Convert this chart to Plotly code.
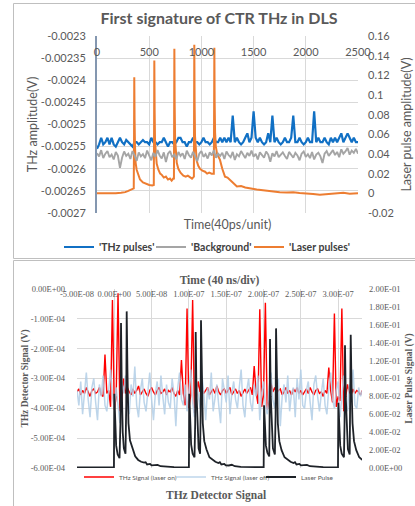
import plotly.graph_objects as go

W, H = 415, 506
SANS = "Lato"
SERIF = "Liberation Serif"
GRAY = "#595959"
GRID = "#d9d9d9"

# ---------------- top chart data ----------------
top_time_units = list(range(0, 2501, 20))

thz_pulses = [
    -0.002555, -0.002545, -0.00253, -0.002545, -0.00254, -0.00253, -0.002545, -0.00253, -0.002545, -0.00255,
    -0.00254, -0.00253, -0.00254, -0.002545, -0.002535, -0.00254, -0.002545, -0.00255, -0.00254, -0.00254,
    -0.002545, -0.00254, -0.002535, -0.00254, -0.00254, -0.002545, -0.00253, -0.00254, -0.00254, -0.002545,
    -0.00254, -0.00254, -0.00253, -0.00254, -0.00255, -0.00254, -0.00254, -0.002545, -0.00254, -0.00253,
    -0.00253, -0.00254, -0.00254, -0.00255, -0.00254, -0.00254, -0.00253, -0.00254, -0.00254, -0.002545,
    -0.00254, -0.00253, -0.00254, -0.00254, -0.002545, -0.00254, -0.00253, -0.00254, -0.00254, -0.00253,
    -0.00254, -0.00253, -0.00254, -0.00253, -0.00254, -0.00248, -0.00254, -0.00253, -0.00254, -0.002545,
    -0.00254, -0.00253, -0.00252, -0.00254, -0.00253, -0.00247, -0.00253, -0.00254, -0.00253, -0.00254,
    -0.002545, -0.00254, -0.00252, -0.00254, -0.00248, -0.00254, -0.00253, -0.00254, -0.002545, -0.00254,
    -0.00253, -0.00254, -0.00254, -0.00253, -0.00248, -0.00254, -0.00254, -0.00253, -0.00254, -0.002545,
    -0.00254, -0.00253, -0.00254, -0.00254, -0.00247, -0.00254, -0.00253, -0.00254, -0.00254, -0.00253,
    -0.00254, -0.002545, -0.00253, -0.00254, -0.00253, -0.00254, -0.00253, -0.00252, -0.00254, -0.00253,
    -0.00252, -0.00253, -0.00254, -0.00253, -0.00254, -0.00254,
]

background = [
    -0.002565, -0.002572, -0.002558, -0.002576, -0.002566, -0.00256, -0.002574, -0.002568, -0.002579, -0.002562,
    -0.00257, -0.002598, -0.002575, -0.002561, -0.002571, -0.002566, -0.002578, -0.00256, -0.00257, -0.002582,
    -0.002563, -0.002572, -0.002567, -0.002576, -0.002559, -0.002569, -0.002581, -0.002564, -0.002573, -0.002558,
    -0.00257, -0.002577, -0.002563, -0.002585, -0.002566, -0.00256, -0.002574, -0.002568, -0.002579, -0.002562,
    -0.002571, -0.002565, -0.002578, -0.002559, -0.002569, -0.002575, -0.002562, -0.002572, -0.002583, -0.002566,
    -0.00256, -0.002573, -0.002567, -0.002577, -0.002563, -0.00257, -0.002558, -0.002575, -0.002566, -0.002571,
    -0.002564, -0.002578, -0.002561, -0.002569, -0.002574, -0.002562, -0.00258, -0.002567, -0.002572, -0.00256,
    -0.002569, -0.002576, -0.002564, -0.002571, -0.002559, -0.002573, -0.002566, -0.002579, -0.002563, -0.00257,
    -0.002575, -0.002561, -0.002568, -0.002584, -0.002565, -0.002572, -0.00256, -0.002574, -0.002567, -0.002563,
    -0.002571, -0.002578, -0.002562, -0.002569, -0.002575, -0.002564, -0.00257, -0.002581, -0.002566, -0.002561,
    -0.002573, -0.002567, -0.002576, -0.002562, -0.002579, -0.002568, -0.002564, -0.002572, -0.002587, -0.002566,
    -0.00256, -0.002571, -0.002565, -0.002558, -0.002569, -0.002562, -0.002574, -0.002556, -0.002566, -0.002561,
    -0.002553, -0.002568, -0.002559, -0.002564, -0.002555, -0.002566,
]

laser_units = [
    0, 60, 120, 180, 230, 270, 300, 330, 352, 355, 357, 360, 364, 370, 380, 395, 412, 440, 470, 500, 530, 544,
    547, 549, 552, 556, 562, 572, 588, 605, 619, 640, 660, 680, 699, 715, 730, 737,
    739, 741, 744, 748, 754, 764, 779, 800, 827, 850, 870, 891, 910, 928,
    930, 932, 935, 939, 945, 955, 970, 987, 1010, 1035, 1055, 1075, 1098, 1119,
    1122, 1124, 1127, 1131, 1138, 1150, 1178, 1200, 1226, 1250, 1274, 1300, 1340, 1380, 1420, 1460, 1497,
    1530, 1570, 1610, 1657, 1700, 1750, 1817, 1880, 1940, 2000, 2070, 2135, 2200, 2260, 2300, 2360, 2420, 2490, 2500,
]
laser_pulses = [
    0.0, 0.0, -0.0003, 0.0, 0.0006, 0.0012, 0.0025, 0.004, 0.005, 0.06, 0.118, 0.075, 0.048, 0.031, 0.024, 0.018, 0.014, 0.011, 0.0095, 0.0085, 0.008, 0.0085,
    0.07, 0.135, 0.085, 0.052, 0.038, 0.03, 0.024, 0.02, 0.019, 0.016, 0.017, 0.014, 0.015, 0.013, 0.015, 0.015,
    0.08, 0.147, 0.09, 0.056, 0.04, 0.031, 0.025, 0.021, 0.018, 0.017, 0.018, 0.016, 0.015, 0.017,
    0.09, 0.151, 0.092, 0.058, 0.042, 0.033, 0.028, 0.025, 0.023, 0.022, 0.02, 0.021, 0.02, 0.02,
    0.09, 0.148, 0.092, 0.062, 0.048, 0.04, 0.034, 0.025, 0.017, 0.016, 0.014, 0.011, 0.007, 0.0075, 0.006, 0.005, 0.0045,
    0.004, 0.0035, 0.003, 0.0018, 0.002, 0.0012, 0.0008, 0.001, 0.0003, 0.0, -0.0007, -0.0015, -0.001, -0.0008, 0.0, 0.0005, -0.0003, 0.0, 0.0,
]

top_x_ticks = [0, 500, 1000, 1500, 2000, 2500]
top_x_ticktext = ["0", "500", "1000", "1500", "2000", "2500"]
top_left_ticks = [-0.0023, -0.00235, -0.0024, -0.00245, -0.0025, -0.00255, -0.0026, -0.00265, -0.0027]
top_left_ticktext = ["-0.0023", "-0.00235", "-0.0024", "-0.00245", "-0.0025",
                     "-0.00255", "-0.0026", "-0.00265", "-0.0027"]
top_right_ticks = [-0.02, 0.0, 0.02, 0.04, 0.06, 0.08, 0.1, 0.12, 0.14, 0.16]
top_right_ticktext = ["-0.02", "0", "0.02", "0.04", "0.06", "0.08", "0.1", "0.12", "0.14", "0.16"]

# ---------------- bottom chart data ----------------
thz_time_ns = [-50 + 2.5 * i for i in range(154)]

thz_laser_on = [
    -3.45e-4, -3.35e-4, -3.55e-4, -3.40e-4, -3.50e-4, -3.30e-4, -3.45e-4, -3.60e-4, -3.40e-4, -3.35e-4,
    -3.50e-4, -3.45e-4, -3.30e-4, -3.55e-4, -3.60e-4, -2.20e-4, -3.50e-4, -3.40e-4, -3.95e-4, -0.37e-4,
    -4.05e-4, -3.60e-4, -0.14e-4, -4.10e-4, -3.70e-4, -3.00e-4, -3.50e-4, -3.30e-4, -3.45e-4, -3.55e-4,
    -3.35e-4, -3.50e-4, -3.40e-4, -3.25e-4, -3.55e-4, -3.45e-4, -3.35e-4, -3.50e-4, -3.60e-4, -3.40e-4,
    -3.30e-4, -3.45e-4, -3.55e-4, -3.40e-4, -3.30e-4, -3.50e-4, -3.45e-4, -3.35e-4, -3.55e-4, -3.40e-4,
    -3.45e-4, -3.30e-4, -3.50e-4, -3.60e-4, -3.40e-4, -3.55e-4, -2.38e-4, -3.50e-4, -3.90e-4, -0.65e-4,
    -4.00e-4, -3.55e-4, -0.37e-4, -4.15e-4, -3.65e-4, -3.10e-4, -3.45e-4, -3.35e-4, -3.50e-4, -3.40e-4,
    -3.30e-4, -3.55e-4, -3.45e-4, -3.35e-4, -3.50e-4, -3.25e-4, -3.45e-4, -3.55e-4, -3.40e-4, -3.35e-4,
    -3.50e-4, -3.40e-4, -3.30e-4, -3.55e-4, -3.45e-4, -3.35e-4, -3.50e-4, -3.40e-4, -3.60e-4, -3.45e-4,
    -3.35e-4, -3.50e-4, -3.40e-4, -3.30e-4, -3.55e-4, -2.58e-4, -3.45e-4, -3.85e-4, -0.68e-4, -3.95e-4,
    -3.55e-4, -0.46e-4, -4.05e-4, -3.70e-4, -3.15e-4, -3.45e-4, -3.30e-4, -3.50e-4, -3.40e-4, -3.35e-4,
    -3.55e-4, -3.45e-4, -3.30e-4, -3.50e-4, -3.40e-4, -3.55e-4, -3.35e-4, -3.45e-4, -3.30e-4, -3.50e-4,
    -3.40e-4, -3.55e-4, -3.45e-4, -3.35e-4, -3.50e-4, -3.30e-4, -3.45e-4, -3.55e-4, -3.40e-4, -3.35e-4,
    -3.50e-4, -3.45e-4, -3.60e-4, -3.40e-4, -3.50e-4, -2.63e-4, -3.40e-4, -3.80e-4, -0.82e-4, -3.95e-4,
    -3.60e-4, -3.75e-4, -0.65e-4, -4.10e-4, -3.65e-4, -3.20e-4, -3.45e-4, -3.55e-4, -3.35e-4, -3.50e-4,
    -3.40e-4, -3.45e-4, -3.55e-4, -3.40e-4,
]

thz_laser_off = [
    -3.4e-4, -3.9e-4, -3.1e-4, -4.2e-4, -3.5e-4, -2.8e-4, -3.7e-4, -4.3e-4, -3.3e-4, -3.0e-4,
    -3.8e-4, -4.4e-4, -3.2e-4, -3.6e-4, -2.9e-4, -3.9e-4, -4.1e-4, -3.4e-4, -2.7e-4, -3.6e-4,
    -4.0e-4, -3.3e-4, -3.8e-4, -4.5e-4, -3.1e-4, -3.5e-4, -2.9e-4, -3.7e-4, -4.2e-4, -3.2e-4,
    -3.6e-4, -2.6e-4, -3.9e-4, -4.3e-4, -3.4e-4, -3.0e-4, -3.8e-4, -4.1e-4, -3.3e-4, -2.8e-4,
    -3.7e-4, -4.4e-4, -3.5e-4, -3.1e-4, -3.9e-4, -2.9e-4, -3.6e-4, -4.2e-4, -3.2e-4, -3.8e-4,
    -4.0e-4, -3.0e-4, -3.5e-4, -4.6e-4, -3.3e-4, -2.8e-4, -3.7e-4, -3.9e-4, -3.2e-4, -4.1e-4,
    -3.4e-4, -2.7e-4, -3.8e-4, -4.3e-4, -3.1e-4, -3.6e-4, -4.0e-4, -2.9e-4, -3.5e-4, -4.4e-4,
    -3.3e-4, -3.7e-4, -2.8e-4, -4.1e-4, -3.6e-4, -3.2e-4, -3.9e-4, -4.5e-4, -3.0e-4, -3.4e-4,
    -3.8e-4, -2.9e-4, -4.2e-4, -3.5e-4, -3.1e-4, -3.7e-4, -4.0e-4, -3.3e-4, -2.7e-4, -3.9e-4,
    -4.3e-4, -3.4e-4, -3.0e-4, -3.8e-4, -4.1e-4, -3.2e-4, -3.6e-4, -2.9e-4, -4.4e-4, -3.5e-4,
    -3.1e-4, -3.9e-4, -4.2e-4, -3.3e-4, -2.8e-4, -3.7e-4, -4.0e-4, -3.4e-4, -3.0e-4, -4.6e-4,
    -3.6e-4, -3.2e-4, -3.8e-4, -2.9e-4, -4.1e-4, -3.5e-4, -3.3e-4, -4.3e-4, -3.0e-4, -3.7e-4,
    -2.7e-4, -3.9e-4, -4.0e-4, -3.4e-4, -3.1e-4, -3.8e-4, -4.4e-4, -3.2e-4, -2.9e-4, -3.6e-4,
    -4.1e-4, -3.5e-4, -3.0e-4, -3.9e-4, -4.2e-4, -3.3e-4, -2.8e-4, -3.7e-4, -4.0e-4, -3.4e-4,
    -3.1e-4, -4.3e-4, -3.6e-4, -2.9e-4, -3.8e-4, -4.1e-4, -3.2e-4, -3.5e-4, -2.7e-4, -3.9e-4,
    -4.0e-4, -3.3e-4, -3.6e-4, -3.4e-4,
]

laser_time_ns = [
    -50, -30, -10, -0.5, 0.0, 1.0, 2.5, 4.5, 7.0, 8.2, 9.0, 10.0, 11.3, 12.8, 15.0, 16.0, 16.6, 17.6, 19.0,
    21.0, 24.0, 28.0, 32.0, 36.0, 40.0, 42.0, 44.0, 48.0, 50.0, 54.0, 58.0, 62.0, 70.0, 80.0, 90.0, 100.0,
    100.5, 101.5, 103.0, 105.0, 107.5, 108.4, 109.1, 110.1, 111.5, 113.0, 115.0, 115.7, 116.2, 117.2, 118.6,
    120.6, 123.5, 127.5, 131.5, 135.5, 139.5, 141.5, 143.5, 147.5, 149.5, 153.5, 157.5, 161.5, 169.5, 180.0, 190.0, 200.2,
    200.7, 201.7, 203.2, 205.2, 207.7, 208.1, 208.7, 209.7, 211.1, 212.6, 215.2, 216.2, 216.8, 217.8, 219.2,
    221.2, 224.2, 228.2, 232.2, 236.2, 240.2, 242.2, 244.2, 248.2, 250.2, 254.2, 258.2, 262.2, 270.0, 280.0, 290.0, 299.8,
    300.3, 301.3, 302.8, 304.8, 307.8, 308.6, 309.2, 310.2, 311.6, 313.1, 315.5, 316.3, 316.9, 317.9, 319.3,
    321.3, 324.3, 328.3, 332.3,
]
laser_pulse_signal = [
    0.0008, 0.0007, 0.0009, 0.001, 0.083, 0.05, 0.025, 0.015, 0.011, 0.05, 0.162, 0.09, 0.04, 0.022, 0.016, 0.07, 0.175, 0.11, 0.05,
    0.031, 0.022, 0.013, 0.009, 0.007, 0.006, 0.0065, 0.004, 0.0045, 0.003, 0.003, 0.0035, 0.002, 0.0012, 0.001, 0.0008, 0.0009,
    0.083, 0.05, 0.026, 0.016, 0.012, 0.05, 0.152, 0.085, 0.04, 0.022, 0.016, 0.06, 0.165, 0.105, 0.05,
    0.03, 0.021, 0.012, 0.009, 0.007, 0.0055, 0.0065, 0.004, 0.0045, 0.003, 0.0028, 0.0036, 0.002, 0.0012, 0.0009, 0.0008, 0.0009,
    0.070, 0.045, 0.025, 0.017, 0.013, 0.05, 0.144, 0.08, 0.04, 0.022, 0.015, 0.06, 0.156, 0.1, 0.05,
    0.03, 0.02, 0.012, 0.009, 0.007, 0.0055, 0.0065, 0.004, 0.0045, 0.003, 0.003, 0.0035, 0.002, 0.0012, 0.001, 0.0008, 0.0009,
    0.073, 0.045, 0.025, 0.016, 0.012, 0.05, 0.137, 0.08, 0.04, 0.021, 0.015, 0.06, 0.149, 0.095, 0.05,
    0.03, 0.02, 0.012, 0.009,
]

bot_x_ticks = [-5e-8, 0.0, 5e-8, 1e-7, 1.5e-7, 2e-7, 2.5e-7, 3e-7]
bot_x_ticktext = ["-5.00E-08", "0.00E+00", "5.00E-08", "1.00E-07", "1.50E-07", "2.00E-07", "2.50E-07", "3.00E-07"]
bot_left_ticks = [0.0, -1e-4, -2e-4, -3e-4, -4e-4, -5e-4, -6e-4]
bot_left_ticktext = ["0.00E+00", "-1.00E-04", "-2.00E-04", "-3.00E-04", "-4.00E-04", "-5.00E-04", "-6.00E-04"]
bot_right_ticks = [0.0, 0.02, 0.04, 0.06, 0.08, 0.1, 0.12, 0.14, 0.16, 0.18, 0.2]
bot_right_ticktext = ["0.00E+00", "2.00E-02", "4.00E-02", "6.00E-02", "8.00E-02", "1.00E-01",
                      "1.20E-01", "1.40E-01", "1.60E-01", "1.80E-01", "2.00E-01"]

thz_time_s = [t * 1e-9 for t in thz_time_ns]
laser_time_s = [t * 1e-9 for t in laser_time_ns]

fig = go.Figure()

# top chart traces
fig.add_trace(go.Scatter(x=top_time_units, y=thz_pulses, name="'THz pulses'", mode="lines", showlegend=True,
                         line=dict(color="#1170c4", width=2.2), xaxis="x", yaxis="y", legend="legend"))
fig.add_trace(go.Scatter(x=top_time_units, y=background, name="'Background'", mode="lines", showlegend=True,
                         line=dict(color="#a5a5a5", width=1.9), xaxis="x3", yaxis="y", legend="legend3"))
fig.add_trace(go.Scatter(x=laser_units, y=laser_pulses, name="'Laser pulses'", mode="lines", showlegend=True,
                         line=dict(color="#ed7d31", width=2), xaxis="x", yaxis="y2", legend="legend4"))

# bottom chart traces
fig.add_trace(go.Scatter(x=thz_time_s, y=thz_laser_on, name="THz Signal (laser on)", mode="lines", showlegend=True,
                         line=dict(color="#ff0000", width=1.4), xaxis="x2", yaxis="y3", legend="legend2"))
fig.add_trace(go.Scatter(x=thz_time_s, y=thz_laser_off, name="THz Signal (laser off)", mode="lines", showlegend=True,
                         line=dict(color="rgba(178,206,230,0.85)", width=1.5), xaxis="x2", yaxis="y3", legend="legend5"))
fig.add_trace(go.Scatter(x=laser_time_s, y=laser_pulse_signal, name="Laser Pulse", mode="lines", showlegend=True,
                         line=dict(color="#1e2228", width=1.8), xaxis="x2", yaxis="y4", legend="legend6"))

tick_sans = dict(family=SANS, size=11, color=GRAY)
tick_serif = dict(family=SERIF, size=8.5, color=GRAY)


def leg(text_left_px, center_px, font):
    return dict(orientation="h", x=(text_left_px - 41) / W, y=1 - center_px / H, xanchor="left",
                yanchor="middle", font=font, bgcolor="rgba(0,0,0,0)", itemwidth=30)


top_leg_font = dict(family=SANS, size=10.5, color="#404040", weight="bold")
bot_leg_font = dict(family=SANS, size=6.5, color=GRAY)

fig.update_layout(
    template="none",
    width=W, height=H, margin=dict(l=0, r=0, t=0, b=0, autoexpand=False),
    paper_bgcolor="white", plot_bgcolor="white", showlegend=True,
    title=dict(text="<b>First signature of CTR THz in DLS</b>", x=219 / W, y=1 - 18 / H,
               xanchor="center", yanchor="middle", xref="paper", yref="paper",
               font=dict(family=SANS, size=16, color=GRAY)),
    xaxis=dict(domain=[97 / W, 358 / W], anchor="y", side="top", range=[0, 2500], tickvals=top_x_ticks,
               ticktext=top_x_ticktext, ticklabelstandoff=-23, tickangle=0, automargin=False,
               showgrid=True, gridcolor=GRID, gridwidth=1, zeroline=False, showline=False, ticks="",
               tickfont=tick_sans),
    xaxis3=dict(overlaying="x", anchor="y", side="bottom", range=[0, 2500], showticklabels=False,
                showgrid=False, zeroline=False, showline=False, ticks="", automargin=False,
                title=dict(text="Time(40ps/unit)", font=dict(family=SANS, size=12.5, color=GRAY), standoff=7)),
    yaxis=dict(domain=[1 - 213 / H, 1 - 36 / H], anchor="x", range=[-0.0027, -0.0023],
               tickvals=top_left_ticks, ticktext=top_left_ticktext, showgrid=True, gridcolor=GRID, gridwidth=1,
               zeroline=False, showline=True, linecolor="#8497b0", linewidth=2, ticks="", automargin=False,
               ticklabelstandoff=7, tickfont=tick_sans,
               title=dict(text="THz amplitude(V)", font=dict(family=SANS, size=12.5, color=GRAY), standoff=0)),
    yaxis2=dict(overlaying="y", side="right", anchor="x", range=[-0.02, 0.16], automargin=False,
                tickvals=top_right_ticks, ticktext=top_right_ticktext, showgrid=False, zeroline=False,
                showline=False, ticks="", ticklabelstandoff=9, tickfont=tick_sans,
                title=dict(text="Laser pulse amplitude(V)", font=dict(family=SANS, size=12.5, color=GRAY), standoff=9)),
    xaxis2=dict(domain=[77 / W, 362 / W], anchor="y3", side="top", range=[-5e-8, 3.32e-7],
                tickvals=bot_x_ticks, ticktext=bot_x_ticktext, ticklabelstandoff=-11, tickangle=0,
                showgrid=True, gridcolor=GRID, gridwidth=1, zeroline=False, showline=False, automargin=False,
                ticks="", tickfont=tick_serif,
                title=dict(text="<b>Time (40 ns/div)</b>", font=dict(family=SERIF, size=11.5, color=GRAY), standoff=2)),
    yaxis3=dict(domain=[38 / H, 217 / H], anchor="x2", range=[-6e-4, 0], automargin=False,
                tickvals=bot_left_ticks, ticktext=bot_left_ticktext, showgrid=True, gridcolor=GRID, gridwidth=1,
                zeroline=False, showline=False, ticks="", ticklabelstandoff=11, tickfont=tick_serif,
                title=dict(text="<b>THz Detector Signal (V)</b>", font=dict(family=SERIF, size=9.5, color=GRAY), standoff=0)),
    yaxis4=dict(overlaying="y3", side="right", anchor="x2", range=[0, 0.2], automargin=False,
                tickvals=bot_right_ticks, ticktext=bot_right_ticktext, showgrid=False, zeroline=False,
                showline=False, ticks="", ticklabelstandoff=6, tickfont=tick_serif,
                title=dict(text="<b>Laser Pulse Signal (V)</b>", font=dict(family=SERIF, size=9.5, color=GRAY), standoff=3)),
    legend=leg(100, 247, top_leg_font),
    legend3=leg(192, 247, top_leg_font),
    legend4=leg(290, 247, top_leg_font),
    legend2=leg(120, 477, bot_leg_font),
    legend5=leg(212, 477, bot_leg_font),
    legend6=leg(302, 477, bot_leg_font),
    annotations=[dict(text="<b>THz Detector Signal</b>", x=216 / W, y=1 - 495 / H, xref="paper", yref="paper",
                      xanchor="center", yanchor="middle", showarrow=False,
                      font=dict(family=SERIF, size=11.5, color=GRAY))],
    shapes=[
        dict(type="rect", xref="paper", yref="paper", x0=13.5 / W, x1=1.05, y0=1 - 258.5 / H, y1=1 - 3.5 / H,
             line=dict(color="#bfbfbf", width=1), fillcolor="rgba(0,0,0,0)"),
        dict(type="rect", xref="paper", yref="paper", x0=13.5 / W, x1=1.05, y0=-0.05, y1=1 - 260.5 / H,
             line=dict(color="#bfbfbf", width=1), fillcolor="rgba(0,0,0,0)"),
    ],
)

fig.write_html(
    "out.html",
    config={"displayModeBar": False},
    post_script="document.body.style.margin='0px';document.body.style.padding='0px';"
                "document.documentElement.style.overflow='hidden';",
)
